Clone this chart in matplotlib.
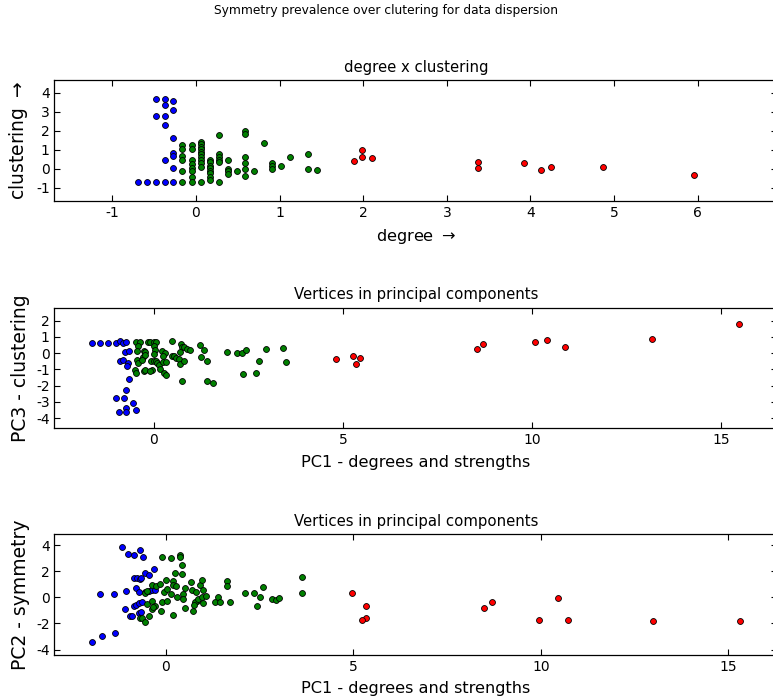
import matplotlib
matplotlib.use('Agg')
import matplotlib.pyplot as plt

# panel 1: degree x clustering
p1_blue_x = [-0.69, -0.58, -0.48, -0.37, -0.27, -0.48, -0.37, -0.37, -0.27, -0.27,
             -0.48, -0.37, -0.37, -0.27, -0.27, -0.27, -0.37, -0.27]
p1_blue_y = [-0.68, -0.68, -0.68, -0.68, -0.68, 3.65, 3.65, 3.35, 3.54, 3.07,
             2.76, 2.76, 2.29, 1.62, 0.82, 0.68, 0.47, 0.05]
p1_green_x = [-0.16, -0.16, -0.16, -0.16, -0.16, -0.16,
              -0.05, -0.05, -0.05, -0.05, -0.05, -0.05, -0.05, -0.05,
              0.06, 0.06, 0.06, 0.06, 0.06, 0.06, 0.06, 0.06, 0.06, 0.06, 0.06,
              0.17, 0.17, 0.17, 0.17, 0.17, 0.17, 0.17, 0.17,
              0.28, 0.28, 0.28, 0.28, 0.28, 0.28,
              0.38, 0.38, 0.38, 0.38, 0.49,
              0.59, 0.59, 0.59, 0.59, 0.59, 0.59,
              0.70, 0.81, 0.91, 0.91, 0.91, 1.02, 1.13, 1.34, 1.34, 1.45]
p1_green_y = [1.24, 1.04, 0.68, 0.47, -0.09, -0.68,
              1.24, 1.04, 0.47, 0.26, 0.05, -0.09, -0.44, -0.68,
              1.43, 1.30, 1.16, 1.04, 0.90, 0.76, 0.61, 0.47, 0.33, 0.12, -0.68,
              0.48, 0.35, 0.17, 0.05, -0.09, -0.23, -0.44, -0.58,
              1.76, 0.78, 0.64, 0.48, 0.35, -0.68,
              0.48, 0.00, -0.12, -0.26, -0.12,
              1.97, 1.83, 0.64, 0.31, 0.00, -0.37,
              -0.12, 1.38, 0.29, 0.16, 0.02, 0.16, 0.64, 0.78, -0.02, -0.07]
p1_red_x = [1.89, 1.99, 1.99, 2.10, 3.37, 3.37, 3.92, 4.13, 4.24, 4.87, 5.95]
p1_red_y = [0.43, 1.01, 0.63, 0.59, 0.35, 0.03, 0.31, -0.07, 0.08, 0.08, -0.30]

# panel 2: PC1 x PC3
p2_blue_x = [-1.63, -1.43, -1.22, -1.00, -0.91, -0.82, -0.73, -0.76, -0.66, -0.91, -0.82,
             -0.69, -0.70, -0.66, -0.75, -1.00, -0.80, -0.55, -0.75, -0.93, -0.73, -0.48]
p2_blue_y = [0.63, 0.63, 0.63, 0.63, 0.72, 0.63, 0.67, 0.06, 0.12, -0.49, -0.43,
             -0.59, -0.82, -1.57, -2.25, -2.74, -2.74, -3.07, -3.35, -3.62, -3.62, -3.52]
p2_green_x = [-0.48, -0.36, -0.41, -0.45, -0.46, -0.43, -0.49, -0.47,
              -0.27, -0.24, -0.29, -0.25, -0.31, -0.26, -0.23,
              -0.16, -0.11, -0.01, 0.06, -0.01, 0.04, -0.01,
              -0.07, 0.00, 0.06, 0.08, 0.12, 0.15, -0.04, -0.10,
              0.22, 0.28, 0.23, 0.25, 0.33, 0.26, 0.32,
              0.47, 0.47, 0.52, 0.59, 0.65, 0.69,
              0.71, 0.75, 0.80, 0.87, 0.96, 0.69, 0.80, 0.75,
              1.22, 1.33, 1.25, 1.39, 1.39, 1.55,
              1.92, 2.19, 2.33, 2.44, 2.35, 2.70, 2.79, 2.95, 3.40, 3.50]
p2_green_y = [0.67, 0.67, 0.41, 0.14, -0.43, -0.63, -1.04, -1.19,
              0.14, 0.08, -0.22, -0.12, -0.43, -1.08, -1.02,
              0.67, 0.67, 0.67, 0.67, 0.45, 0.20, -0.06,
              -0.51, -0.51, -0.49, -0.61, -0.70, -0.98, -1.02, -1.10,
              0.14, 0.00, -0.16, -0.53, -0.53, -1.21, -1.33,
              0.74, -0.16, -0.20, -0.27, -0.37, -0.67,
              0.59, 0.35, 0.35, 0.27, 0.22, 0.10, -0.51, -1.70,
              0.49, 0.22, -0.22, -0.47, -1.70, -1.86,
              0.06, 0.02, -0.02, 0.18, -1.29, -1.21, -0.49, 0.25, 0.29, -0.53]
p2_red_x = [4.82, 5.25, 5.35, 5.45, 8.54, 8.71, 10.07, 10.38, 10.87, 13.17, 15.48]
p2_red_y = [-0.37, -0.20, -0.65, -0.31, 0.28, 0.57, 0.67, 0.80, 0.35, 0.86, 1.80]

# panel 3: PC1 x PC2
p3_blue_x = [-1.16, -1.01, -0.84, -0.68, -0.61,
             -1.76, -1.37, -1.05, -1.96, -1.70, -1.34,
             -0.85, -0.77, -0.69, -0.65, -0.54, -0.44, -0.32,
             -0.80, -0.72, -0.54, -0.44, -0.36, -0.29,
             -1.08, -0.85, -0.78, -0.72, -0.64,
             -0.94, -0.89, -0.71, -0.65]
p3_blue_y = [3.83, 3.32, 3.22, 3.63, 3.12,
             0.23, 0.23, 0.51, -3.42, -2.94, -2.76,
             1.46, 1.46, 1.38, 1.46, 1.89, 1.69, 2.15,
             0.72, 0.43, 0.41, 0.49, 0.59, 0.56,
             -0.89, -0.66, -0.56, -0.46, -0.38,
             -1.43, -1.43, -1.23, -1.12]
p3_green_x = [-0.68, -0.62, -0.56, -0.44, -0.50, -0.36, -0.29, -0.37, -0.34,
              -0.56, -0.50, -0.36, -0.25, -0.16, -0.10, 0.01, -0.10, -0.11, 0.03, -0.04, 0.04,
              0.14, 0.39, 0.39, 0.19, 0.21, 0.21, 0.28, 0.15, 0.26, 0.30,
              0.44, 0.44, 0.46, 0.47, 0.52, 0.52, 0.68, 0.71, 0.80, 0.84, 0.79, 0.72, 0.77,
              0.92, 0.96, 1.00, 0.87, 0.96, 1.00, 1.08, 1.32, 1.40, 1.46, 1.64, 1.65, 1.72,
              2.11, 2.36, 2.44, 2.52, 2.60, 2.84, 2.94, 3.03, 3.64, 3.63]
p3_green_y = [-1.61, -1.61, -1.92, -1.43, -0.54, -0.31, -0.69, -0.89, -0.77,
              0.36, 0.46, 0.95, 0.87, 1.02, 3.12, 1.33, -0.38, -1.05, -0.26, 0.38, 0.64,
              2.99, 3.24, 3.12, -1.35, 1.28, 0.95, 0.87, 0.26, 1.89, 0.05,
              2.48, 1.76, 0.23, -0.13, 0.72, -0.79, 1.20, 0.56, 0.43, -0.26, -0.38, -1.02, -0.59,
              0.95, 1.33, 0.56, -0.10, 0.05, -0.41, 0.08, -0.38, 0.03, -0.33, 1.28, 0.87, -0.33,
              0.31, 0.31, -0.64, 0.03, 0.77, -0.13, -0.23, -0.08, 1.53, 0.31]
p3_red_x = [4.97, 5.33, 5.33, 5.24, 8.48, 8.71, 9.95, 10.46, 10.72, 12.98, 15.30]
p3_red_y = [0.31, -0.66, -1.56, -1.76, -0.82, -0.38, -1.76, -0.05, -1.76, -1.84, -1.84]

p1_xticks = [-1, 0, 1, 2, 3, 4, 5, 6]
p1_yticks = [-1, 0, 1, 2, 3, 4]
p2_xticks = [0, 5, 10, 15]
p2_yticks = [-4, -3, -2, -1, 0, 1, 2]
p3_xticks = [0, 5, 10, 15]
p3_yticks = [-4, -2, 0, 2, 4]

plt.rcParams['font.family'] = 'DejaVu Sans'
plt.rcParams['axes.unicode_minus'] = False

fig = plt.figure(figsize=(7.73, 7.0), dpi=100)
fig.suptitle('Symmetry prevalence over clutering for data dispersion', fontsize=8.8, y=0.994)

panels = [
    (0.7129, 'degree x clustering', 'degree $\\rightarrow$', 'clustering $\\rightarrow$',
     (p1_blue_x, p1_blue_y), (p1_green_x, p1_green_y), (p1_red_x, p1_red_y), p1_xticks, p1_yticks),
    (0.3881, 'Vertices in principal components', 'PC1 - degrees and strengths', 'PC3 - clustering',
     (p2_blue_x, p2_blue_y), (p2_green_x, p2_green_y), (p2_red_x, p2_red_y), p2_xticks, p2_yticks),
    (0.0643, 'Vertices in principal components', 'PC1 - degrees and strengths', 'PC2 - symmetry',
     (p3_blue_x, p3_blue_y), (p3_green_x, p3_green_y), (p3_red_x, p3_red_y), p3_xticks, p3_yticks),
]

for bottom, title, xlab, ylab, blue, green, red, xt, yt in panels:
    ax = fig.add_axes([0.0705, bottom, 0.935, 0.1725])
    for (xs, ys), col in ((blue, '#0000ff'), (green, '#008000'), (red, '#ff0000')):
        ax.scatter(xs, ys, s=18, c=col, edgecolors='k', linewidths=0.6)
    allx = blue[0] + green[0] + red[0]
    ally = blue[1] + green[1] + red[1]
    ax.set_xlim(min(allx) - 1, max(allx) + 1)
    ax.set_ylim(min(ally) - 1, max(ally) + 1)
    ax.set_xticks(xt)
    ax.set_yticks(yt)
    ax.tick_params(direction='in', top=True, right=True, length=4, width=0.8, labelsize=10)
    for sp in ax.spines.values():
        sp.set_linewidth(0.9)
    ax.set_title(title, fontsize=10.7)
    ax.set_xlabel(xlab, fontsize=11.6, labelpad=5.5)
    ax.set_ylabel(ylab, fontsize=13.5)
    ax.yaxis.set_label_coords(-0.034, 0.5)

fig.savefig('out.png', dpi=100)
